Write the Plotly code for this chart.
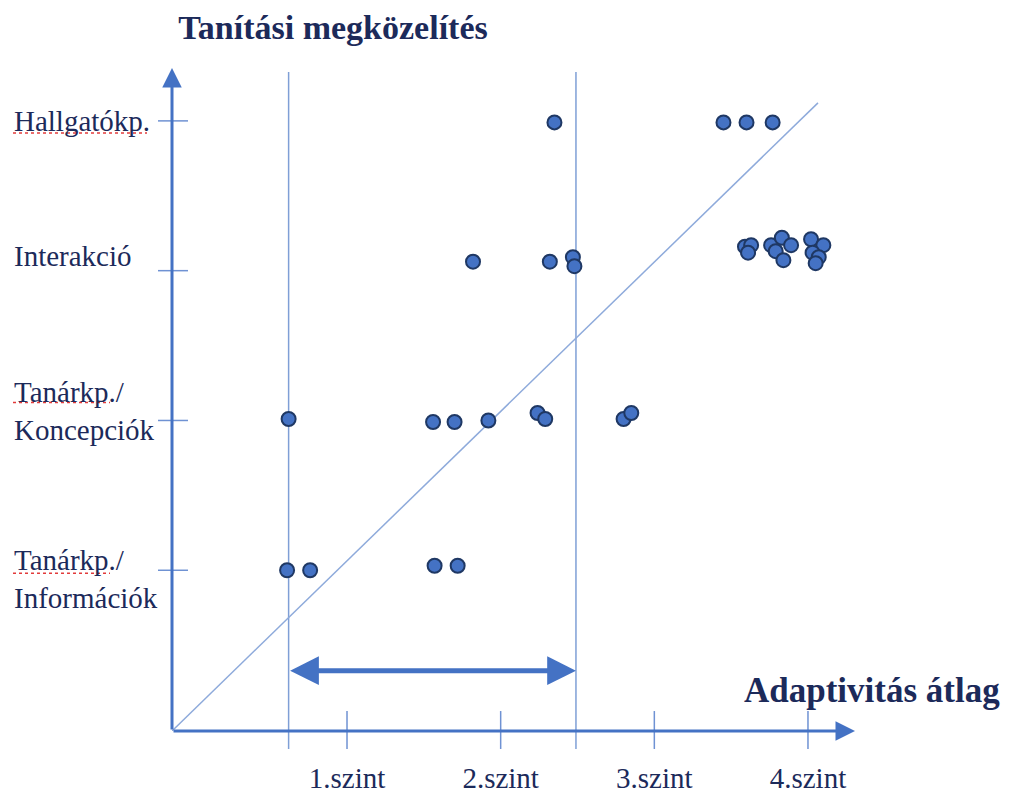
import plotly.graph_objects as go

# ---------------- data ----------------
category_labels = ["Tanárkp./<br>Információk", "Tanárkp./<br>Koncepciók", "Interakció", "Hallgatókp."]
category_values = [1, 2, 3, 4]
level_labels = ["1.szint", "2.szint", "3.szint", "4.szint"]
level_values = [1, 2, 3, 4]

# points: adaptivity average (x) and teaching approach (y, with small visual offsets)
info_x = [0.61, 0.76, 1.57, 1.72]
info_y = [1.00, 1.00, 1.03, 1.03]

konc_x = [0.62, 1.56, 1.70, 1.92, 2.24, 2.29, 2.80, 2.85]
konc_y = [2.01, 1.99, 1.99, 2.00, 2.05, 2.01, 2.01, 2.05]

inter_x = [1.82, 2.32, 2.47, 2.48,
           3.59, 3.63, 3.61, 3.76, 3.83, 3.89, 3.79, 3.84,
           4.02, 4.10, 4.03, 4.07, 4.05]
inter_y = [3.06, 3.06, 3.09, 3.03,
           3.16, 3.17, 3.12, 3.17, 3.22, 3.17, 3.13, 3.07,
           3.21, 3.17, 3.12, 3.09, 3.05]

hallg_x = [2.35, 3.45, 3.60, 3.77]
hallg_y = [3.99, 3.99, 3.99, 3.99]

range_low, range_high = 0.62, 2.49       # vertical boundary lines / double arrow
arrow_y = 0.33
diag_start = (-0.139, -0.073)
diag_end = (4.065, 4.12)

x_range = [-0.139, 4.306]
y_range = [-0.073, 4.353]

# ---------------- style ----------------
AXIS = "#4472C4"
TEXT = "#1c2a5a"
FONT = "Liberation Serif"
FIG_W, FIG_H = 995, 798
OFF = 8                      # page margin around the figure
PL, PT = 172 - OFF, 68 - OFF  # plot area top-left in figure px
PW, PH = 683, 669            # plot area size in px

fig = go.Figure()

all_x = info_x + konc_x + inter_x + hallg_x
all_y = info_y + konc_y + inter_y + hallg_y
fig.add_trace(go.Scatter(
    x=all_x, y=all_y, mode="markers",
    marker=dict(size=14, color="#4472C4", line=dict(color="#1F3864", width=2)),
    showlegend=False, hoverinfo="skip", cliponaxis=False))

def px_x(p):
    return (p - 172) / PW

def px_y(p):
    return (732 - p) / 664

shapes = []
shapes.append(dict(type="line", xref="x", yref="y", x0=diag_start[0], y0=diag_start[1],
                   x1=diag_end[0], y1=diag_end[1], line=dict(color="#8eaadb", width=1.5), layer="below"))
for xv in (range_low, range_high):
    shapes.append(dict(type="line", xref="x", yref="paper", x0=xv, x1=xv,
                       y0=px_y(750), y1=px_y(72),
                       line=dict(color="#7f9fd6", width=1.5), layer="below"))
for xv in level_values:
    shapes.append(dict(type="line", xref="x", yref="paper", x0=xv, x1=xv,
                       y0=px_y(750), y1=px_y(712),
                       line=dict(color="#6f92d3", width=1.5)))
for yv in category_values:
    shapes.append(dict(type="line", xref="paper", yref="y", x0=px_x(158), x1=px_x(188),
                       y0=yv, y1=yv, line=dict(color="#6f92d3", width=1.5)))

# spell-check style underlines under the labels (decoration)
for (xa, xb, yy) in [(13, 147, 133), (13, 110, 403), (13, 110, 574)]:
    shapes.append(dict(type="line", xref="paper", yref="paper", x0=px_x(xa), x1=px_x(xb),
                       y0=px_y(yy), y1=px_y(yy), line=dict(color="#e23b3b", width=1.5, dash="dot")))

annotations = []
annotations.append(dict(x=x_range[1], y=y_range[0], ax=x_range[0], ay=y_range[0],
                        xref="x", yref="y", axref="x", ayref="y", text="", showarrow=True,
                        arrowhead=2, arrowsize=1.3, arrowwidth=3, arrowcolor=AXIS))
annotations.append(dict(x=x_range[0], y=y_range[1], ax=x_range[0], ay=y_range[0],
                        xref="x", yref="y", axref="x", ayref="y", text="", showarrow=True,
                        arrowhead=2, arrowsize=1.3, arrowwidth=3, arrowcolor=AXIS))
annotations.append(dict(x=range_high, y=arrow_y, ax=range_low, ay=arrow_y,
                        xref="x", yref="y", axref="x", ayref="y", text="", showarrow=True,
                        arrowhead=2, startarrowhead=2, arrowside="end+start",
                        arrowsize=1.15, startarrowsize=1.15, arrowwidth=5, arrowcolor=AXIS))
label_shift = {1: -9, 2: 9, 3: 15, 4: 0}
for yv, lab in zip(category_values, category_labels):
    annotations.append(dict(x=px_x(12), y=yv, xref="paper", yref="y",
                            text=lab, showarrow=False, xanchor="left", align="left",
                            yanchor="middle", yshift=label_shift[yv],
                            font=dict(family=FONT, size=29, color=TEXT)))
annotations.append(dict(x=px_x(1002), y=px_y(691), xref="paper", yref="paper",
                        text="<b>Adaptivitás átlag</b>", showarrow=False, xanchor="right",
                        yanchor="middle", font=dict(family=FONT, size=35, color=TEXT)))

fig.update_layout(
    width=FIG_W, height=FIG_H,
    margin=dict(l=PL, r=FIG_W - PL - PW, t=PT, b=FIG_H - PT - PH),
    paper_bgcolor="white", plot_bgcolor="white",
    title=dict(text="<b>Tanítási megközelítés</b>", x=(333 - OFF) / FIG_W, xref="container", xanchor="center",
               y=1 - (27 - OFF) / FIG_H, yref="container", yanchor="middle",
               font=dict(family=FONT, size=34, color=TEXT)),
    xaxis=dict(range=x_range, showgrid=False, zeroline=False, showline=False,
               tickvals=level_values, ticktext=level_labels, ticks="",
               ticklabelstandoff=27, tickfont=dict(family=FONT, size=29, color=TEXT)),
    yaxis=dict(range=y_range, showgrid=False, zeroline=False, showline=False,
               tickvals=category_values, showticklabels=False, ticks=""),
    shapes=shapes, annotations=annotations, showlegend=False,
)

fig.write_html("out.html")
